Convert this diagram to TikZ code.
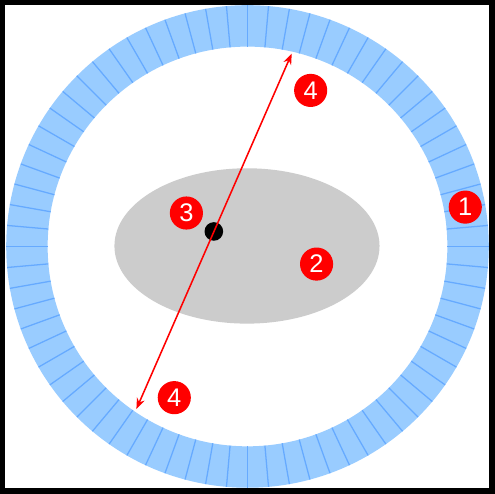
\documentclass[tikz,border=0pt]{standalone}
\usepackage{fontspec}
\setmainfont{Liberation Sans}
\usepackage{tikz}
\usetikzlibrary{arrows.meta,shapes.geometric,calc}

\definecolor{ringblue}{RGB}{153,204,255}
\definecolor{tickblue}{RGB}{102,170,255}
\definecolor{bodygray}{RGB}{204,204,204}
\definecolor{markred}{RGB}{255,0,0}

\begin{document}
\begin{tikzpicture}[
  x=0.02cm, y=-0.02cm,
  marker/.style={circle, fill=markred, text=white, minimum size=0.64cm,
                 inner sep=0pt, font=\fontsize{14}{14}\selectfont},
  >={Stealth[length=6pt, width=4.5pt]}
]
  % frame
  \fill[black] (0,0) rectangle (478,477);
  \fill[white] (5,5) rectangle (472.5,471.5);
  \useasboundingbox (0,0) rectangle (478,477);

  % ring with ticks
  \fill[ringblue, even odd rule] (239,238) circle (233) (239,238) circle (193);
  \foreach \a in {0,5,...,355}
    \draw[tickblue, line width=0.7pt] ($(239,238)+(\a:193)$) -- ($(239,238)+(\a:233)$);

  % inner body
  \node[ellipse, fill=bodygray, minimum width=256*0.02cm, minimum height=150*0.02cm,
        inner sep=0pt] (body) at (238.5,237.5) {};
  \node[circle, fill=black, minimum size=0.36cm, inner sep=0pt] (core) at (206.5,223.5) {};

  % diameter through the core
  \coordinate (rimA) at (281.7,51.7);
  \coordinate (rimB) at (131.7,395);
  \draw[<->, markred, line width=0.85pt] (rimA) -- (rimB);

  % numbered markers
  \node[marker] (one) at (449.3,200) {1};
  \node[marker] (two) at (305.7,255) {2};
  \node[marker] (three) at (180,205.7) {3};
  \node[marker] (fourA) at (300,87.3) {4};
  \node[marker] (fourB) at (168.3,384) {4};
\end{tikzpicture}
\end{document}
